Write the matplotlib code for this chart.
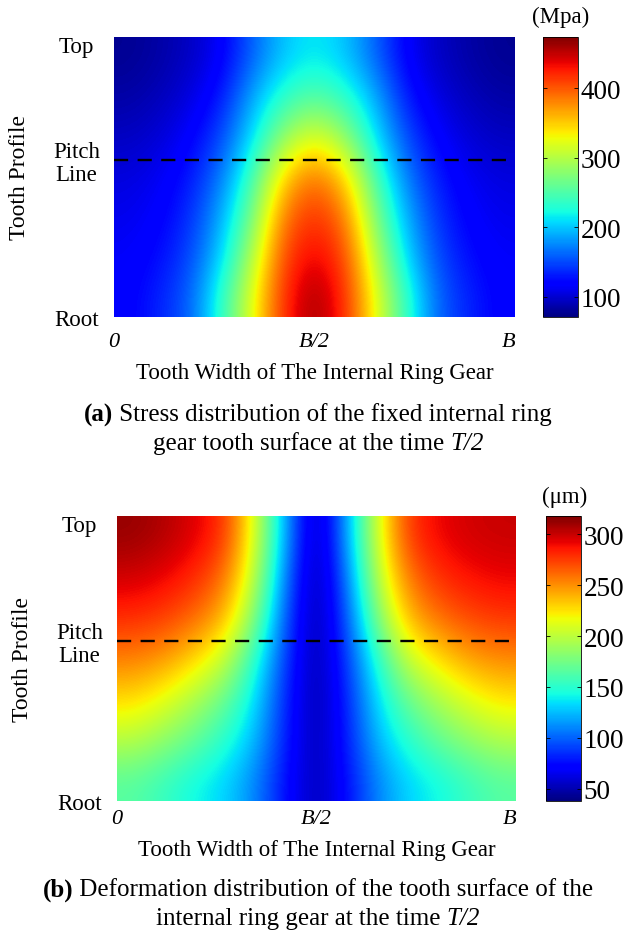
import numpy as np
import matplotlib
matplotlib.use("Agg")
import matplotlib.pyplot as plt
from matplotlib.offsetbox import TextArea, HPacker, AnchoredOffsetbox


# =========================
# Data
# =========================

# positions across the tooth width (0 .. B) and up the profile (Root .. Top)
width_pos = [0, 1/12, 2/12, 3/12, 4/12, 5/12, 6/12, 7/12, 8/12, 9/12, 10/12, 11/12, 1]
profile_pos = [0, 1/6, 2/6, 3/6, 4/6, 5/6, 1]
pitch_line = 0.562

# (a) stress, MPa, rows from Root to Top
stress = [
    [118, 135, 160, 235, 325, 420, 465, 420, 325, 235, 160, 135, 118],
    [115, 125, 150, 205, 300, 410, 440, 410, 300, 205, 150, 125, 115],
    [110, 118, 140, 190, 270, 390, 420, 390, 270, 190, 140, 118, 110],
    [105, 112, 130, 170, 245, 350, 395, 350, 245, 170, 130, 112, 105],
    [95, 102, 118, 150, 210, 285, 325, 285, 210, 150, 118, 102, 95],
    [85, 92, 105, 130, 190, 235, 255, 235, 190, 130, 105, 92, 85],
    [78, 85, 95, 115, 160, 200, 215, 200, 160, 115, 95, 85, 78],
]
stress_range = (71, 474)
stress_ticks = [100, 200, 300, 400]

# (b) deformation, um, rows from Root to Top
deform = [
    [165, 155, 142, 132, 110, 75, 50, 75, 110, 132, 142, 155, 165],
    [198, 185, 170, 150, 125, 80, 48, 80, 125, 150, 170, 185, 196],
    [228, 215, 195, 172, 135, 82, 46, 82, 135, 172, 195, 213, 225],
    [255, 248, 230, 205, 150, 88, 45, 88, 150, 205, 228, 245, 252],
    [280, 275, 262, 240, 180, 95, 44, 95, 180, 240, 260, 272, 277],
    [298, 292, 282, 260, 200, 105, 42, 105, 200, 258, 280, 288, 292],
    [312, 306, 295, 280, 210, 118, 42, 118, 210, 278, 292, 298, 300],
]
deform_range = (38, 318)
deform_ticks = [50, 100, 150, 200, 250, 300]

x_tick_labels = ["0", "B/2", "B"]
y_tick_labels = ["Root", "Pitch\nLine", "Top"]

caption_a = [
    [("(a)", "bold"), (" Stress distribution of the fixed internal ring", "")],
    [("gear tooth surface at the time ", ""), ("T/2", "italic")],
]
caption_b = [
    [("(b)", "bold"), (" Deformation distribution of the tooth surface of the", "")],
    [("internal ring gear at the time ", ""), ("T/2", "italic")],
]


plt.rcParams["font.family"] = ["Liberation Serif", "DejaVu Serif"]

W, H = 629, 937
fig = plt.figure(figsize=(W / 100, H / 100), dpi=100)


def px_box(x0, y0, x1, y1):
    # pixel box (top-left origin) -> figure fraction rect
    return [x0 / W, 1 - y1 / H, (x1 - x0) / W, (y1 - y0) / H]


def draw_panel(img_box, cb_box, field, vrange, cticks, unit, unit_xy, xpad):
    ax = fig.add_axes(px_box(*img_box))
    im = ax.imshow(np.array(field, dtype=float), origin="lower", aspect="auto",
                   extent=[width_pos[0], width_pos[-1], profile_pos[0], profile_pos[-1]],
                   cmap="jet", vmin=vrange[0], vmax=vrange[1],
                   interpolation="bicubic")
    ax.axhline(pitch_line, color="black", lw=1.7, ls=(0, (6, 4)))
    for s in ax.spines.values():
        s.set_visible(False)

    ax.set_xticks([0, 0.5, 0.985])
    ax.set_xticklabels(x_tick_labels, fontsize=16, style="italic")
    ax.set_yticks([0.0, pitch_line, 0.975])
    ax.set_yticklabels(y_tick_labels, fontsize=16.5, ha="center", linespacing=1.1)
    ax.set_xlim(0, 1)
    ax.set_ylim(0, 1)
    ax.tick_params(axis="both", length=0)
    ax.tick_params(axis="y", pad=27)
    ax.tick_params(axis="x", pad=xpad)
    ax.set_xlabel("Tooth Width of The Internal Ring Gear", fontsize=16.5, labelpad=8)
    ax.set_ylabel("Tooth Profile", fontsize=17)
    ax.yaxis.set_label_coords(-0.21, 0.5)

    cax = fig.add_axes(px_box(*cb_box))
    cb = fig.colorbar(im, cax=cax)
    cb.set_ticks(cticks)
    cax.tick_params(labelsize=19.5, direction="in", left=True, right=True,
                    length=3, width=0.6, pad=2)
    cb.outline.set_linewidth(0.6)
    fig.text(unit_xy[0] / W, 1 - unit_xy[1] / H, unit, fontsize=16.5,
             ha="center", va="center")
    return ax


def add_caption(lines, y_px):
    for k, parts in enumerate(lines):
        areas = []
        for text, style in parts:
            props = dict(fontsize=18)
            if style == "bold":
                props["fontweight"] = "bold"
            elif style == "italic":
                props["fontstyle"] = "italic"
            areas.append(TextArea(text, textprops=props))
        box = HPacker(children=areas, align="baseline", pad=0, sep=0)
        anchored = AnchoredOffsetbox(loc="center", child=box, frameon=False,
                                     bbox_to_anchor=(318 / W, 1 - y_px[k] / H),
                                     bbox_transform=fig.transFigure,
                                     borderpad=0, pad=0)
        fig.add_artist(anchored)


draw_panel((114, 38, 515, 318), (543, 38, 578, 318), stress, stress_range,
           stress_ticks, "(Mpa)", (561, 17), 11)
draw_panel((117, 517, 516, 802), (546, 517, 581, 802), deform, deform_range,
           deform_ticks, "(\u03bcm)", (565, 497), 6)

add_caption(caption_a, [415, 444])
add_caption(caption_b, [890, 919])

fig.savefig("out.png", dpi=100)
